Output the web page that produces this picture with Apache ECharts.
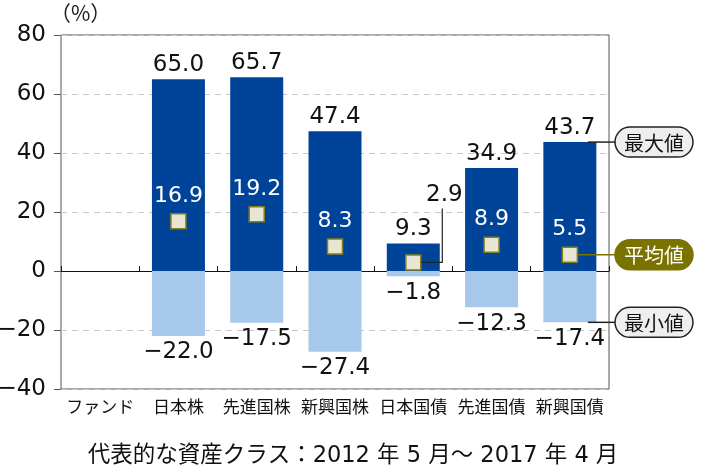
<!DOCTYPE html>
<html>
<head>
<meta charset="utf-8">
<script src="https://cdn.jsdelivr.net/npm/echarts@6/dist/echarts.min.js"></script>
<style>
  html, body { margin: 0; padding: 0; background: #fff; }
  #chart { width: 706px; height: 470px; }
</style>
</head>
<body>
<div id="chart"></div>
<script>
const categories = ['ファンド', '日本株', '先進国株', '新興国株', '日本国債', '先進国債', '新興国債']
const maxValues = [null, 65.0, 65.7, 47.4, 9.3, 34.9, 43.7]
const avgValues = [null, 16.9, 19.2, 8.3, 2.9, 8.9, 5.5]
const minValues = [null, -22.0, -17.5, -27.4, -1.8, -12.3, -17.4]
const calloutIndex = 4   // 日本国債: average label drawn outside the bar
const legendIndex = 6    // 新興国債: bubbles point at this bar
const legendNames = ['最大値', '平均値', '最小値']

const NUM_FONT = 'DejaVu Sans, Noto Sans CJK JP'
const JP_FONT = 'Noto Sans CJK JP, DejaVu Sans'
const BLUE = '#00449a'
const LIGHT = '#a6c8ea'
const OLIVE = '#7b7300'

function fmt(v) {
  return (v < 0 ? '\u2212' : '') + Math.abs(v).toFixed(1)
}

const chart = echarts.init(document.getElementById('chart'))

const legendData = [
  [legendIndex, maxValues[legendIndex], 0],
  [legendIndex, avgValues[legendIndex], 1],
  [legendIndex, minValues[legendIndex], 2]
]

const option = {
  animation: false,
  grid: {
    left: 61, right: 97, top: 35, bottom: 81,
    outerBoundsMode: 'none',
    show: true, borderColor: '#555', borderWidth: 1
  },
  xAxis: [
    {
      type: 'category',
      data: categories,
      axisLine: {onZero: true, lineStyle: {color: '#111', width: 1}},
      axisTick: {show: true, inside: true, length: 5, lineStyle: {color: '#111'}},
      axisLabel: {show: false},
      splitLine: {show: false}
    },
    {
      type: 'category',
      data: categories,
      position: 'bottom',
      axisLine: {show: false, onZero: false},
      axisTick: {show: false},
      axisLabel: {show: true, interval: 0, margin: 9, fontSize: 17, color: '#111', fontFamily: JP_FONT},
      splitLine: {show: false}
    }
  ],
  yAxis: {
    type: 'value',
    min: -40,
    max: 80,
    interval: 20,
    axisLine: {show: false},
    axisTick: {show: true, length: 7, lineStyle: {color: '#555'}},
    axisLabel: {
      fontSize: 23, color: '#111', fontFamily: NUM_FONT, margin: 15,
      formatter: v => (v < 0 ? '\u2212' : '') + Math.abs(v)
    },
    splitLine: {lineStyle: {color: '#c8c8c8', type: [6, 5], width: 1}}
  },
  series: [
    {
      type: 'bar',
      data: maxValues,
      barWidth: 53,
      barGap: '-100%',
      itemStyle: {color: BLUE},
      label: {
        show: true, position: 'top', distance: 3,
        fontSize: 23, color: '#111', fontFamily: NUM_FONT,
        formatter: p => fmt(p.value)
      },
      z: 2
    },
    {
      type: 'bar',
      data: minValues,
      barWidth: 53,
      barGap: '-100%',
      itemStyle: {color: LIGHT},
      label: {
        show: true, position: 'bottom', distance: 5,
        fontSize: 23, color: '#111', fontFamily: NUM_FONT,
        formatter: p => fmt(p.value)
      },
      z: 2
    },
    {
      type: 'scatter',
      xAxisIndex: 0,
      data: avgValues.map((v, i) => i === calloutIndex ? {value: v, label: {show: false}} : v),
      symbol: 'rect',
      symbolSize: 15,
      itemStyle: {color: '#e8e6d2', borderColor: '#857e1a', borderWidth: 1.5, opacity: 1},
      label: {
        show: true, position: 'top', distance: 6,
        fontSize: 22, color: '#fff', fontFamily: NUM_FONT,
        formatter: p => fmt(p.value)
      },
      z: 4
    },
    {
      // leader line and label for the average that sits outside its bar
      type: 'custom',
      clip: false,
      data: [[calloutIndex, avgValues[calloutIndex]]],
      renderItem: function(params, api) {
        const p = api.coord([api.value(0), api.value(1)])
        return {
          type: 'group',
          children: [
            {
              type: 'polyline',
              shape: {points: [[p[0] + 8, p[1]], [p[0] + 29, p[1]], [p[0] + 29, p[1] - 54]]},
              style: {stroke: '#222', lineWidth: 1.2, fill: null}
            },
            {
              type: 'text',
              style: {
                x: p[0] + 31, y: p[1] - 67, text: fmt(api.value(1)),
                fontSize: 23, fontFamily: NUM_FONT, fill: '#111',
                align: 'center', verticalAlign: 'middle'
              }
            }
          ]
        }
      },
      z: 5
    },
    {
      // bubbles on the right explaining the three marks
      type: 'custom',
      clip: false,
      data: legendData,
      renderItem: function(params, api) {
        const p = api.coord([api.value(0), api.value(1)])
        const k = api.value(2)
        const isAvg = k === 1
        const bx = 615
        return {
          type: 'group',
          children: [
            {
              type: 'line',
              shape: {x1: p[0] + (isAvg ? 8 : 18), y1: p[1], x2: bx, y2: p[1]},
              style: {stroke: isAvg ? OLIVE : '#222', lineWidth: 1.5}
            },
            {
              type: 'rect',
              shape: {x: bx, y: p[1] - 15, width: 78, height: 30, r: 15},
              style: {fill: isAvg ? OLIVE : '#eeeeee', stroke: isAvg ? OLIVE : '#222', lineWidth: 1.5}
            },
            {
              type: 'text',
              style: {
                x: bx + 39, y: p[1] + 1, text: legendNames[k],
                fontSize: 20, fontFamily: JP_FONT, fill: isAvg ? '#fff' : '#111',
                align: 'center', verticalAlign: 'middle'
              }
            }
          ]
        }
      },
      z: 5
    }
  ],
  graphic: [
    {
      type: 'text', left: 50, top: 3,
      style: {text: '（%）', fontSize: 21, fontFamily: JP_FONT, fill: '#222'}
    },
    {
      type: 'text', left: -6, top: 398,
      style: {text: ')', fontSize: 18, fontFamily: NUM_FONT, fill: '#222'}
    },
    {
      type: 'text', left: 'center', top: 445,
      style: {
        text: '代表的な資産クラス：2012 年 5 月～ 2017 年 4 月',
        fontSize: 22.5, fontFamily: NUM_FONT, fill: '#111'
      }
    }
  ]
}

chart.setOption(option)
</script>
</body>
</html>
